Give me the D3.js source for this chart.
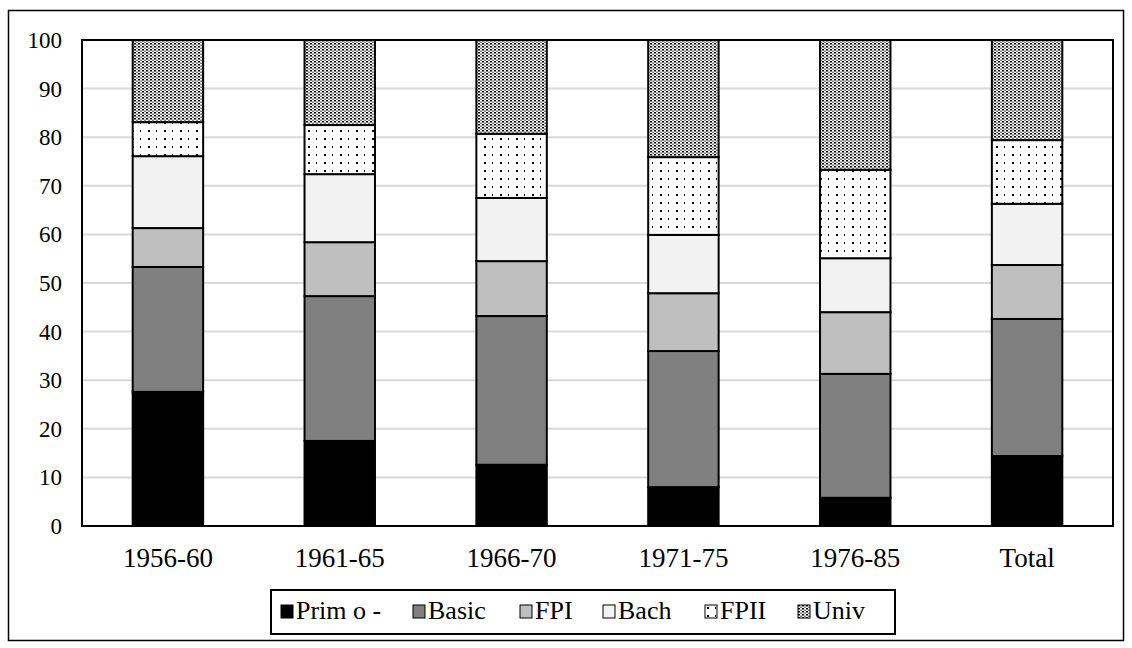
<!DOCTYPE html>
<html>
<head>
<meta charset="utf-8">
<script src="https://cdn.jsdelivr.net/npm/d3@7"></script>
<style>
  body { margin: 0; background: #fff; }
  svg text { font-family: "Liberation Serif", "Times New Roman", serif; }
</style>
</head>
<body>
<svg id="chart" width="1132" height="648"></svg>
<script>
// Data (percent of each cohort)
const categories = ["1956-60", "1961-65", "1966-70", "1971-75", "1976-85", "Total"];
const seriesNames = ["Prim o -", "Basic", "FPI", "Bach", "FPII", "Univ"];
const primValues = [27.6, 17.5, 12.6, 8.0, 5.8, 14.4];
const basicValues = [25.7, 29.8, 30.6, 28.0, 25.5, 28.2];
const fpiValues = [8.0, 11.1, 11.3, 11.9, 12.7, 11.1];
const bachValues = [14.8, 14.0, 13.0, 12.0, 11.1, 12.6];
const fpiiValues = [7.0, 10.1, 13.2, 16.0, 18.2, 13.1];
const univValues = [16.9, 17.5, 19.3, 24.1, 26.7, 20.6];
const yTicks = [0, 10, 20, 30, 40, 50, 60, 70, 80, 90, 100];

const allValues = [primValues, basicValues, fpiValues, bachValues, fpiiValues, univValues];
const table = categories.map((c, i) => {
  const row = { cat: c };
  seriesNames.forEach((s, j) => (row[s] = allValues[j][i]));
  return row;
});

const margin = { top: 40, right: 19, bottom: 122, left: 82 };
const width = 1132 - margin.left - margin.right;
const height = 648 - margin.top - margin.bottom;
const serif = "'Liberation Serif', 'Times New Roman', serif";

const svg = d3.select("#chart");

// outer border
svg.append("rect")
  .attr("x", 8.5).attr("y", 10.5)
  .attr("width", 1115).attr("height", 630)
  .attr("fill", "none").attr("stroke", "#000").attr("stroke-width", 1.5);

// patterns
const defs = svg.append("defs");
const dense = defs.append("pattern")
  .attr("id", "univ").attr("patternUnits", "userSpaceOnUse")
  .attr("width", 4).attr("height", 3);
dense.append("rect").attr("width", 4).attr("height", 3).attr("fill", "#fff");
dense.append("rect").attr("x", 0).attr("y", 0).attr("width", 2).attr("height", 1.5).attr("fill", "#000");
dense.append("rect").attr("x", 2.5).attr("y", 1.5).attr("width", 1).attr("height", 1.5).attr("fill", "#000");

const sparse = defs.append("pattern")
  .attr("id", "fpii").attr("patternUnits", "userSpaceOnUse")
  .attr("width", 16).attr("height", 8);
sparse.append("rect").attr("width", 16).attr("height", 8).attr("fill", "#fff");
sparse.append("rect").attr("x", 2).attr("y", 2).attr("width", 2).attr("height", 2).attr("fill", "#000");
sparse.append("rect").attr("x", 10).attr("y", 2).attr("width", 1).attr("height", 2).attr("fill", "#000");

const fills = ["#000000", "#808080", "#bfbfbf", "#f2f2f2", "url(#fpii)", "url(#univ)"];
const color = d3.scaleOrdinal().domain(seriesNames).range(fills);

const g = svg.append("g").attr("transform", `translate(${margin.left},${margin.top})`);

const x = d3.scaleBand().domain(categories).range([0, width]).paddingInner(0.59).paddingOuter(0.295);
const y = d3.scaleLinear().domain([0, 100]).range([height, 0]);

// gridlines
g.append("g")
  .selectAll("line")
  .data(yTicks.slice(1, -1))
  .join("line")
  .attr("x1", 0).attr("x2", width)
  .attr("y1", (d) => y(d)).attr("y2", (d) => y(d))
  .attr("stroke", "#d9d9d9").attr("stroke-width", 2);

// bars
const stack = d3.stack().keys(seriesNames);
g.selectAll("g.layer")
  .data(stack(table))
  .join("g")
  .attr("class", "layer")
  .attr("fill", (d) => color(d.key))
  .selectAll("rect")
  .data((d) => d)
  .join("rect")
  .attr("x", (d) => x(d.data.cat))
  .attr("y", (d) => y(d[1]))
  .attr("width", x.bandwidth())
  .attr("height", (d) => y(d[0]) - y(d[1]))
  .attr("stroke", "#000")
  .attr("stroke-width", 2);

// plot frame
g.append("rect")
  .attr("x", 0).attr("y", 0)
  .attr("width", width).attr("height", height)
  .attr("fill", "none").attr("stroke", "#000").attr("stroke-width", 2);

// y axis
const yAxis = g.append("g")
  .attr("font-family", null)
  .call(d3.axisLeft(y).tickValues(yTicks).tickSize(0).tickPadding(20));
yAxis.select(".domain").remove();
yAxis.selectAll("text")
  .style("font-size", "23px").style("font-family", serif)
  .attr("dy", "0.33em").attr("fill", "#000");

// x axis
const xAxis = g.append("g")
  .attr("transform", `translate(0,${height})`)
  .call(d3.axisBottom(x).tickSize(0).tickPadding(0));
xAxis.select(".domain").remove();
xAxis.selectAll("text")
  .style("font-size", "27px").style("font-family", serif)
  .attr("y", 41).attr("dy", null).attr("fill", "#000");

// legend
const legendX = [281, 413, 520, 603, 705, 798];
const legend = svg.append("g");
legend.append("rect")
  .attr("x", 271).attr("y", 590)
  .attr("width", 624).attr("height", 44)
  .attr("fill", "#fff").attr("stroke", "#000").attr("stroke-width", 2);

const items = legend.selectAll("g.item")
  .data(seriesNames)
  .join("g")
  .attr("class", "item")
  .attr("transform", (d, i) => `translate(${legendX[i]},605)`);

items.append("rect")
  .attr("width", 12).attr("height", 13)
  .attr("fill", (d) => color(d))
  .attr("stroke", "#000").attr("stroke-width", 1);

items.append("text")
  .attr("x", 15).attr("y", 14)
  .style("font-size", "26px")
  .style("font-family", serif)
  .attr("fill", "#000")
  .text((d) => d);
</script>
</body>
</html>
